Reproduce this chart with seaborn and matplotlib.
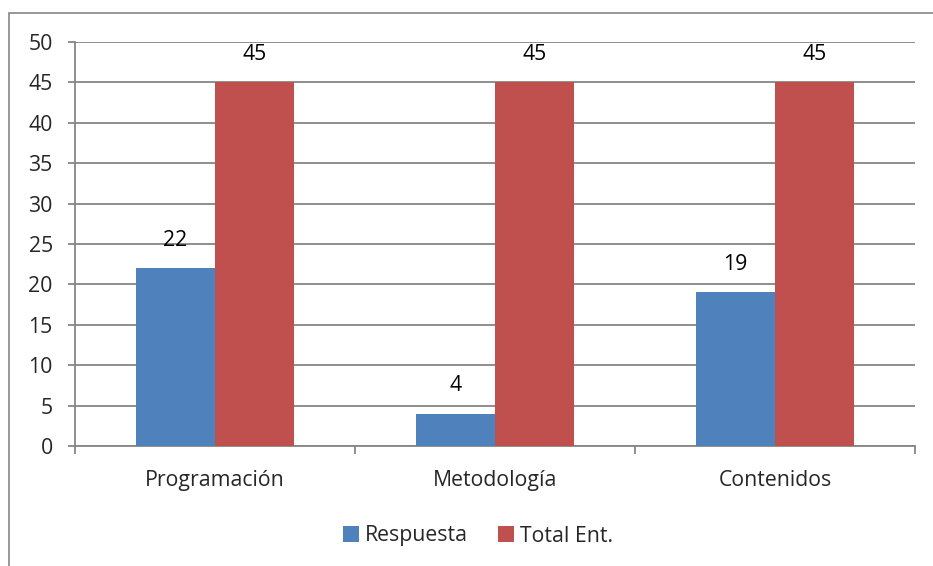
import pandas as pd
import matplotlib.pyplot as plt
import seaborn as sns
from matplotlib.patches import Rectangle

# Chart data
categorias = ["Programación", "Metodología", "Contenidos"]
respuesta = [22, 4, 19]
total_ent = [45, 45, 45]
series = ["Respuesta", "Total Ent."]
y_ticks = [0, 5, 10, 15, 20, 25, 30, 35, 40, 45, 50]

df = pd.DataFrame({
    "categoria": categorias * 2,
    "serie": [series[0]] * 3 + [series[1]] * 3,
    "valor": respuesta + total_ent,
})

sns.set_style("white")
plt.rcParams['font.family'] = ['Open Sans', 'DejaVu Sans']
FS = 15.3

fig = plt.figure(figsize=(9.33, 5.66), dpi=100)
ax = fig.add_axes([75 / 933, 1 - 446 / 566, 840 / 933, 404 / 566])

# Outer chart border (cut by the image edges)
fig.patches.append(Rectangle((9 / 933, -0.1), 1.2, 1 - 13 / 566 + 0.1,
                             transform=fig.transFigure, fill=False,
                             edgecolor='#868686', linewidth=1.2, zorder=0))

palette = {"Respuesta": "#4F81BD", "Total Ent.": "#C0504D"}
sns.barplot(data=df, x="categoria", y="valor", hue="serie", palette=palette,
            order=categorias, hue_order=series, width=0.564, gap=0,
            saturation=1, linewidth=0, ax=ax, zorder=3, legend=True)

# Value labels
for cont in ax.containers:
    for bar in cont:
        h = bar.get_height()
        ax.annotate(f"{h:g}", (bar.get_x() + bar.get_width() / 2, h),
                    xytext=(0, 20), textcoords='offset points',
                    ha='center', va='center', fontsize=FS, color='black')

ax.set_ylim(0, 50)
ax.set_xlim(-0.5, 2.5)
ax.set_yticks(y_ticks)
ax.yaxis.grid(True, color='#868686', linewidth=1.3, zorder=0)
ax.set_axisbelow(True)

# Category boundaries as major ticks, labels at centres
ax.set_xticks([-0.5, 0.5, 1.5, 2.5])
ax.set_xticklabels([])
ax.set_xticks([0, 1, 2], minor=True)
ax.set_xticklabels(categorias, minor=True)
ax.tick_params(axis='x', which='major', length=6, width=1.3, color='#868686',
               direction='out', bottom=True)
ax.tick_params(axis='x', which='minor', length=0, pad=17, labelsize=FS)
ax.tick_params(axis='y', length=5, width=1.3, color='#868686', direction='out',
               left=True, pad=11, labelsize=FS)

for s in ['top', 'right']:
    ax.spines[s].set_visible(False)
for s in ['left', 'bottom']:
    ax.spines[s].set_color('#868686')
    ax.spines[s].set_linewidth(1.3)

ax.set_xlabel("")
ax.set_ylabel("")

leg = ax.legend(loc='center', bbox_to_anchor=(478 / 933, 1 - 536 / 566),
                bbox_transform=fig.transFigure, ncol=2, frameon=False,
                fontsize=FS, handlelength=0.75, handleheight=0.75,
                handletextpad=0.3, columnspacing=1.4)

fig.savefig("out.png", dpi=100)
